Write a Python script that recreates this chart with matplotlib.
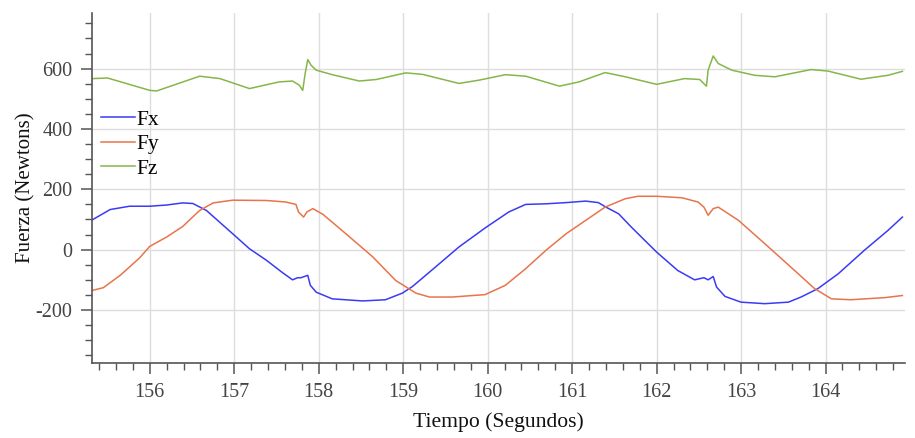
import numpy as np
import matplotlib.pyplot as plt
from matplotlib.ticker import MultipleLocator

# Values (time in s, force in N)
t_fx = [155.32, 155.53, 155.76, 156.00, 156.20, 156.39, 156.51, 156.67, 156.98, 157.18,
        157.38, 157.57, 157.69, 157.75, 157.79, 157.87, 157.90, 157.97, 158.16, 158.52,
        158.79, 158.99, 159.11, 159.38, 159.66, 159.97, 160.25, 160.45, 160.69, 160.93,
        161.16, 161.31, 161.40, 161.55, 161.70, 162.00, 162.25, 162.45, 162.56, 162.61,
        162.67, 162.71, 162.81, 163.00, 163.28, 163.56, 163.71, 163.91, 164.15, 164.46,
        164.74, 164.91]
fx = [99, 133, 144, 144, 148, 155, 153, 130, 53, 3,
      -35, -76, -100, -93, -93, -85, -118, -141, -163, -170,
      -166, -144, -122, -58, 9, 72, 125, 150, 152, 156,
      161, 156, 141, 119, 75, -8, -69, -100, -93, -100,
      -89, -124, -155, -174, -179, -174, -157, -129, -80, -2,
      64, 108]

t_fy = [155.32, 155.45, 155.65, 155.88, 156.00, 156.20, 156.39, 156.59, 156.75, 156.98,
        157.38, 157.61, 157.73, 157.76, 157.82, 157.86, 157.93, 158.05, 158.32, 158.64,
        158.91, 159.15, 159.31, 159.58, 159.97, 160.21, 160.45, 160.69, 160.93, 161.16,
        161.39, 161.63, 161.78, 162.00, 162.30, 162.49, 162.56, 162.61, 162.67, 162.73,
        162.97, 163.28, 163.59, 163.87, 164.07, 164.30, 164.70, 164.91]
fy = [-135, -126, -85, -27, 11, 42, 77, 130, 155, 164,
      163, 158, 150, 125, 108, 125, 136, 117, 53, -24,
      -102, -144, -157, -157, -149, -118, -63, -2, 53, 97,
      141, 169, 177, 177, 172, 158, 141, 114, 136, 141,
      97, 20, -58, -129, -163, -166, -159, -152]

t_fz = [155.32, 155.50, 156.00, 156.08, 156.59, 156.83, 157.18, 157.53, 157.69, 157.77,
        157.81, 157.84, 157.87, 157.91, 157.97, 158.16, 158.48, 158.68, 159.03, 159.23,
        159.66, 159.90, 160.21, 160.45, 160.85, 161.08, 161.39, 161.63, 162.00, 162.33,
        162.51, 162.59, 162.61, 162.67, 162.73, 162.89, 163.16, 163.40, 163.83, 164.03,
        164.42, 164.74, 164.91]
fz = [567, 569, 528, 526, 575, 567, 534, 556, 559, 545,
      528, 585, 630, 611, 595, 580, 559, 564, 586, 581,
      551, 562, 580, 575, 542, 556, 587, 573, 548, 567,
      564, 542, 595, 642, 617, 595, 578, 573, 597, 592,
      565, 578, 591]

plt.rcParams['font.family'] = ['Liberation Serif', 'DejaVu Serif']
plt.rcParams['axes.unicode_minus'] = False

fig = plt.figure(figsize=(9.15, 4.38), dpi=100)
ax = fig.add_axes([0.1005, 0.171, 0.8885, 0.799])

ax.plot(t_fx, fx, color='#3b3bf5', lw=1.1, label='Fx')
ax.plot(t_fy, fy, color='#e8744c', lw=1.1, label='Fy')
ax.plot(t_fz, fz, color='#86b64a', lw=1.1, label='Fz')

ax.set_xlim(155.315, 164.94)
ax.set_ylim(-376, 784)
ax.xaxis.set_major_locator(MultipleLocator(1))
ax.xaxis.set_minor_locator(MultipleLocator(0.2))
ax.yaxis.set_major_locator(MultipleLocator(200))
ax.yaxis.set_minor_locator(MultipleLocator(50))
ax.grid(True, which='major', color='#dddddd', lw=1)
ax.set_axisbelow(True)

for s in ['top', 'right']:
    ax.spines[s].set_visible(False)
for s in ['left', 'bottom']:
    ax.spines[s].set_color('#555555')
    ax.spines[s].set_linewidth(1.2)
ax.tick_params(which='both', colors='#555555', labelcolor='#444444', labelsize=14.5)
ax.tick_params(which='major', length=8, width=1.1, pad=6)
ax.tick_params(which='minor', length=5, width=1.0)

ax.set_xlabel('Tiempo (Segundos)', fontsize=15.6, color='#111111', labelpad=8)
ax.set_ylabel('Fuerza (Newtons)', fontsize=15, color='#111111')
ax.yaxis.set_label_coords(-0.070, 0.5)

ax.legend(loc='upper left', bbox_to_anchor=(-0.008, 0.767), frameon=False, fontsize=15.5,
          handlelength=1.6, handletextpad=0.05, labelspacing=0.2, borderaxespad=0.3)

fig.savefig('out.png', dpi=100)
